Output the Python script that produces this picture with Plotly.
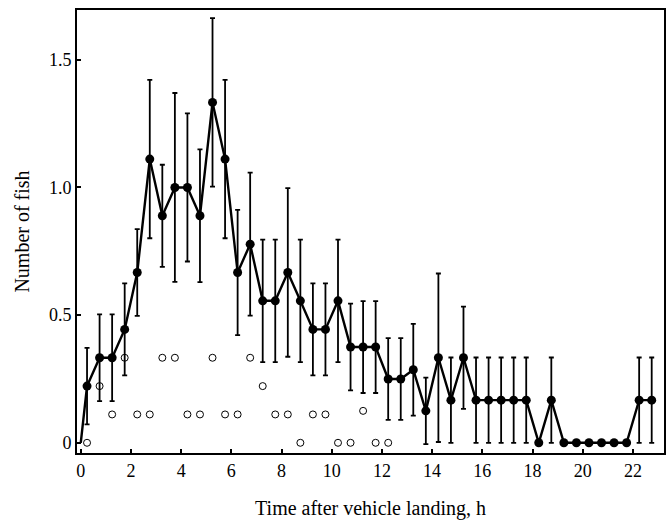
import plotly.graph_objects as go

# Filled circles: mean number of fish (half-hour bins)
hours = [0.25, 0.75, 1.25, 1.75, 2.25, 2.75, 3.25, 3.75, 4.25, 4.75,
         5.25, 5.75, 6.25, 6.75, 7.25, 7.75, 8.25, 8.75, 9.25, 9.75,
         10.25, 10.75, 11.25, 11.75, 12.25, 12.75, 13.25, 13.75, 14.25, 14.75,
         15.25, 15.75, 16.25, 16.75, 17.25, 17.75, 18.25, 18.75, 19.25, 19.75,
         20.25, 20.75, 21.25, 21.75, 22.25, 22.75]
fish = [0.222, 0.333, 0.333, 0.444, 0.667, 1.111, 0.889, 1.0, 1.0, 0.889,
        1.333, 1.111, 0.667, 0.778, 0.556, 0.556, 0.667, 0.556, 0.444, 0.444,
        0.556, 0.375, 0.375, 0.375, 0.25, 0.25, 0.286, 0.125, 0.333, 0.167,
        0.333, 0.167, 0.167, 0.167, 0.167, 0.167, 0.0, 0.167, 0.0, 0.0,
        0.0, 0.0, 0.0, 0.0, 0.167, 0.167]
fish_err = [0.15, 0.17, 0.17, 0.18, 0.17, 0.31, 0.2, 0.37, 0.29, 0.26,
            0.33, 0.31, 0.245, 0.28, 0.24, 0.24, 0.33, 0.24, 0.18, 0.18,
            0.24, 0.17, 0.18, 0.18, 0.16, 0.16, 0.18, 0.13, 0.33, 0.167,
            0.2, 0.167, 0.167, 0.167, 0.167, 0.167, 0.0, 0.167, 0.0, 0.0,
            0.0, 0.0, 0.0, 0.0, 0.167, 0.167]

# Open circles: second series
hours_open = [0.25, 0.75, 1.25, 1.75, 2.25, 2.75, 3.25, 3.75, 4.25, 4.75,
              5.25, 5.75, 6.25, 6.75, 7.25, 7.75, 8.25, 8.75, 9.25, 9.75,
              10.25, 10.75, 11.25, 11.75, 12.25]
fish_open = [0.0, 0.222, 0.111, 0.333, 0.111, 0.111, 0.333, 0.333, 0.111, 0.111,
             0.333, 0.111, 0.111, 0.333, 0.222, 0.111, 0.111, 0.0, 0.111, 0.111,
             0.0, 0.0, 0.125, 0.0, 0.0]

x_ticks = [0, 2, 4, 6, 8, 10, 12, 14, 16, 18, 20, 22]
y_ticks = [0, 0.5, 1.0, 1.5]
y_tick_text = ["0", "0.5", "1.0", "1.5"]

# connecting line starts at the origin
line_x = [0.0] + hours
line_y = [0.0] + fish

fig = go.Figure()
fig.add_trace(go.Scatter(
    x=hours_open, y=fish_open, mode="markers",
    marker=dict(symbol="circle-open", size=7, color="black", line=dict(width=1, color="black")),
    showlegend=False, cliponaxis=False))
fig.add_trace(go.Scatter(
    x=line_x, y=line_y, mode="lines",
    line=dict(color="black", width=2.4),
    showlegend=False, cliponaxis=False))
fig.add_trace(go.Scatter(
    x=hours, y=fish, mode="markers",
    marker=dict(symbol="circle", size=9, color="black"),
    error_y=dict(type="data", array=fish_err, visible=True, color="black", thickness=1.8, width=2.5),
    showlegend=False, cliponaxis=False))

font_family = "Liberation Serif"
fig.update_layout(
    width=672, height=520,
    margin=dict(l=77, r=8, t=10, b=67, autoexpand=False),
    paper_bgcolor="white", plot_bgcolor="white",
    font=dict(family=font_family, color="black", size=18),
    xaxis=dict(
        range=[-0.15, 23.24], tickvals=x_ticks, ticktext=[str(v) for v in x_ticks],
        ticks="inside", ticklen=4, tickwidth=1.5, tickcolor="black",
        showline=True, linecolor="black", linewidth=2, mirror=True,
        showgrid=False, zeroline=False, automargin=False,
        tickfont=dict(family=font_family, size=18),
        title=dict(text="Time after vehicle landing, h", font=dict(family=font_family, size=20), standoff=26),
    ),
    yaxis=dict(
        range=[-0.04, 1.695], tickvals=y_ticks, ticktext=y_tick_text,
        ticks="inside", ticklen=4, tickwidth=1.5, tickcolor="black",
        showline=True, linecolor="black", linewidth=2, mirror=True,
        showgrid=False, zeroline=False, automargin=False,
        tickfont=dict(family=font_family, size=18),
        title=dict(text="Number of fish", font=dict(family=font_family, size=20), standoff=14),
    ),
)

fig.write_html("out.html")
